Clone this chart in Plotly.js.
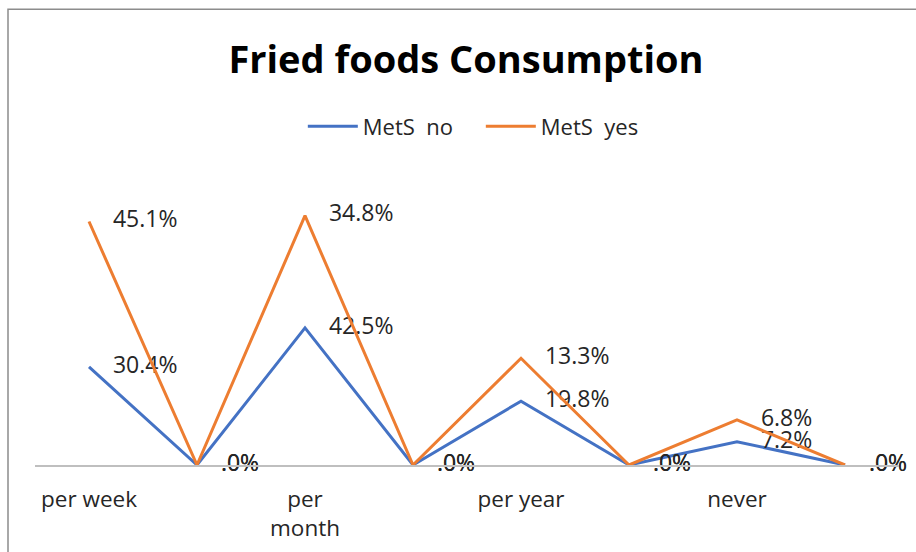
<!DOCTYPE html>
<html>
<head>
<meta charset="utf-8">
<script src="https://cdn.plot.ly/plotly-3.0.1.min.js"></script>
<style>html,body{margin:0;padding:0;background:#fff;}</style>
</head>
<body>
<div id="chart" style="width:916px;height:552px;"></div>
<script>
var positions = [0, 1, 2, 3, 4, 5, 6, 7];
var tickPositions = [0, 2, 4, 6];
var tickLabels = ['per week', 'per<br>month', 'per year', 'never'];
var metsNo = [30.4, 0, 42.5, 0, 19.8, 0, 7.2, 0];
var metsYes = [45.1, 0, 34.8, 0, 13.3, 0, 6.8, 0];
var seriesNames = ['MetS  no', 'MetS  yes'];
var colors = ['#4472C4', '#ED7D31'];

function fmt(v) {
  var s = v.toFixed(1);
  if (s.indexOf('0.') === 0) s = s.substring(1);
  return '\u00a0\u00a0\u00a0\u00a0' + s + '%';
}

var font = 'Open Sans, Noto Sans, sans-serif';

function mk(vals, name, color) {
  return {
    x: positions, y: vals, name: name,
    type: 'scatter', mode: 'lines+text',
    stackgroup: 'one', fill: 'none',
    line: {color: color, width: 3},
    text: vals.map(fmt), textposition: 'middle right',
    textfont: {family: font, size: 23, color: '#262626'},
    cliponaxis: false,
    hoverinfo: 'skip'
  };
}

var data = [mk(metsNo, seriesNames[0], colors[0]), mk(metsYes, seriesNames[1], colors[1])];

var layout = {
  width: 916, height: 552,
  margin: {l: 35, r: 17, t: 207, b: 87},
  paper_bgcolor: '#fff', plot_bgcolor: '#fff',
  showlegend: true,
  title: {text: '<b>Fried foods Consumption</b>', x: 0.5087, xref: 'container', xanchor: 'center',
          y: 0.891, yref: 'container', yanchor: 'middle',
          font: {family: font, size: 38, color: '#000'}},
  legend: {orientation: 'h', x: 0.516, xanchor: 'center', y: 1.312, yanchor: 'middle',
           font: {family: font, size: 22, color: '#262626'}, traceorder: 'normal',
           itemwidth: 50, entrywidth: 113},
  xaxis: {range: [-0.5, 7.5], tickvals: tickPositions, ticktext: tickLabels,
          showgrid: false, zeroline: false, showline: true, linecolor: '#BFBFBF', linewidth: 1.5,
          ticks: '', ticklabelstandoff: 13,
          tickfont: {family: font, size: 22.5, color: '#262626'}},
  yaxis: {range: [0, 80], visible: false, showgrid: false, zeroline: false},
  shapes: [{type: 'rect', xref: 'paper', yref: 'paper', x0: -0.03125, x1: 1.2, y0: -0.5, y1: 1.766,
            line: {color: '#8C8C8C', width: 1.5}, fillcolor: 'rgba(0,0,0,0)', layer: 'below'}]
};

Plotly.newPlot('chart', data, layout, {displayModeBar: false, staticPlot: true});
</script>
</body>
</html>
